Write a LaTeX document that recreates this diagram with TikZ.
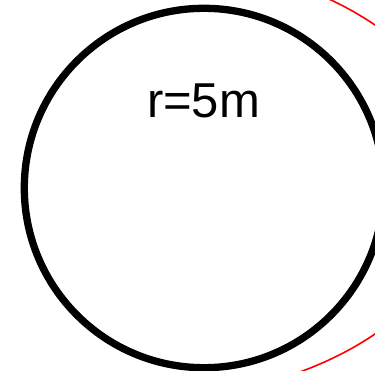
\documentclass[tikz,border=0pt]{standalone}
\usepackage{fontspec}
\setmainfont{Liberation Sans}
\usetikzlibrary{positioning}
\definecolor{ringred}{HTML}{FF0000}
\definecolor{ringblack}{HTML}{000000}

\begin{document}
\begin{tikzpicture}[x=1pt,y=-1pt]
\useasboundingbox (0,0) rectangle (375,371);
\clip (0,0) rectangle (375,371);
\draw[ringred, line width=1.6pt] (150,179.5) ellipse [x radius=318.9pt, y radius=218pt];
\draw[ringblack, line width=7.3pt] (204,188) circle (179.7pt);
\node[font=\fontsize{49}{49}\selectfont, inner sep=0pt] (radius) at (203.5,101) {r=5m};
\end{tikzpicture}
\end{document}
